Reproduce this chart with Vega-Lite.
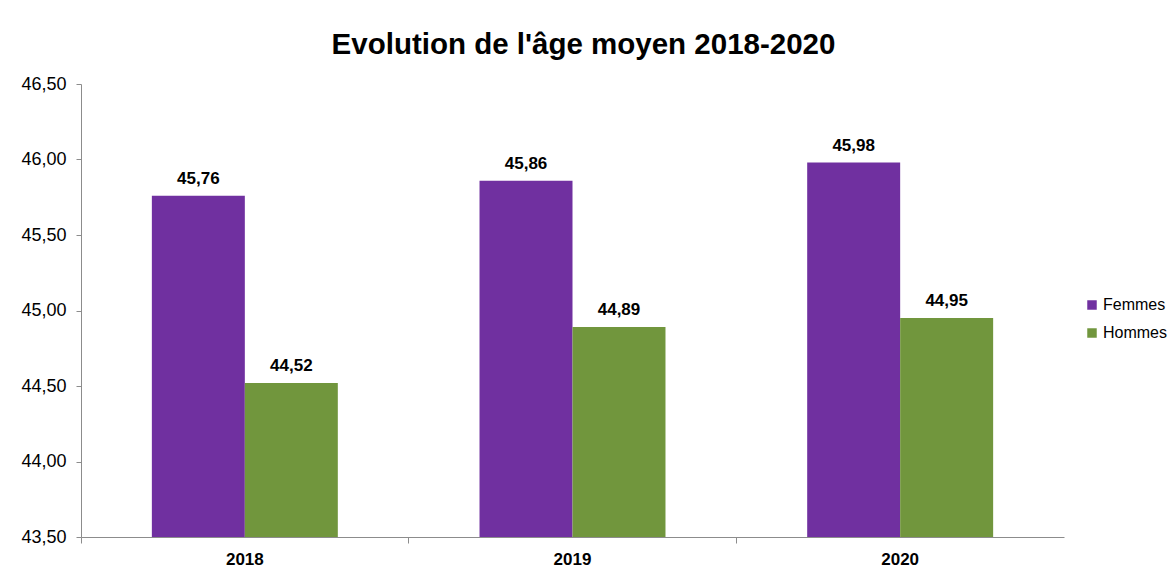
{
  "$schema": "https://vega.github.io/schema/vega-lite/v6.json",
  "autosize": "none",
  "width": 983,
  "height": 453,
  "padding": {"left": 81, "top": 84, "right": 106, "bottom": 33},
  "background": "white",
  "config": {
    "font": "Liberation Sans",
    "view": {"stroke": null},
    "locale": {"number": {"decimal": ",", "thousands": " ", "grouping": [3], "currency": ["", " €"]}}
  },
  "title": {
    "text": "Evolution de l'âge moyen 2018-2020",
    "fontSize": 29.5,
    "fontWeight": "bold",
    "font": "Liberation Sans",
    "color": "#000000",
    "anchor": "middle",
    "dx": 11,
    "offset": 15
  },
  "data": {
    "values": [
      {"annee": "2018", "sexe": "Femmes", "age": 45.76},
      {"annee": "2018", "sexe": "Hommes", "age": 44.52},
      {"annee": "2019", "sexe": "Femmes", "age": 45.86},
      {"annee": "2019", "sexe": "Hommes", "age": 44.89},
      {"annee": "2020", "sexe": "Femmes", "age": 45.98},
      {"annee": "2020", "sexe": "Hommes", "age": 44.95}
    ]
  },
  "encoding": {
    "x": {
      "field": "annee",
      "type": "nominal",
      "scale": {"paddingInner": 0, "paddingOuter": 0},
      "axis": {
        "title": null,
        "labelAngle": 0,
        "labelFontSize": 17,
        "labelFontWeight": "bold",
        "labelColor": "#000000",
        "labelPadding": 8,
        "domainColor": "#8c8c8c",
        "tickColor": "#8c8c8c",
        "tickSize": 6,
        "bandPosition": 0
      }
    },
    "xOffset": {
      "field": "sexe",
      "type": "nominal",
      "sort": ["Femmes", "Hommes"],
      "scale": {"paddingInner": 0, "paddingOuter": 0.762}
    },
    "y": {
      "field": "age",
      "type": "quantitative",
      "scale": {"domain": [43.5, 46.5], "zero": false, "nice": false},
      "axis": {
        "title": null,
        "values": [43.5, 44, 44.5, 45, 45.5, 46, 46.5],
        "format": ".2f",
        "grid": false,
        "labelFontSize": 18,
        "labelColor": "#000000",
        "labelPadding": 10,
        "domainColor": "#8c8c8c",
        "tickColor": "#8c8c8c",
        "tickSize": 5
      }
    }
  },
  "layer": [
    {
      "mark": {"type": "bar", "clip": true},
      "encoding": {
        "color": {
          "field": "sexe",
          "type": "nominal",
          "sort": ["Femmes", "Hommes"],
          "scale": {"domain": ["Femmes", "Hommes"], "range": ["#7030A0", "#71963D"]},
          "legend": {
            "title": null,
            "orient": "none",
            "legendX": 1003,
            "legendY": 213,
            "symbolType": "square",
            "symbolSize": 90,
            "symbolStrokeWidth": 0,
            "labelFontSize": 16,
            "labelColor": "#000000",
            "labelOffset": 3,
            "rowPadding": 12
          }
        }
      }
    },
    {
      "mark": {"type": "text", "baseline": "bottom", "dy": -8, "fontSize": 17, "fontWeight": "bold", "color": "#000000"},
      "encoding": {
        "text": {"field": "age", "type": "quantitative", "format": ".2f"}
      }
    }
  ]
}
